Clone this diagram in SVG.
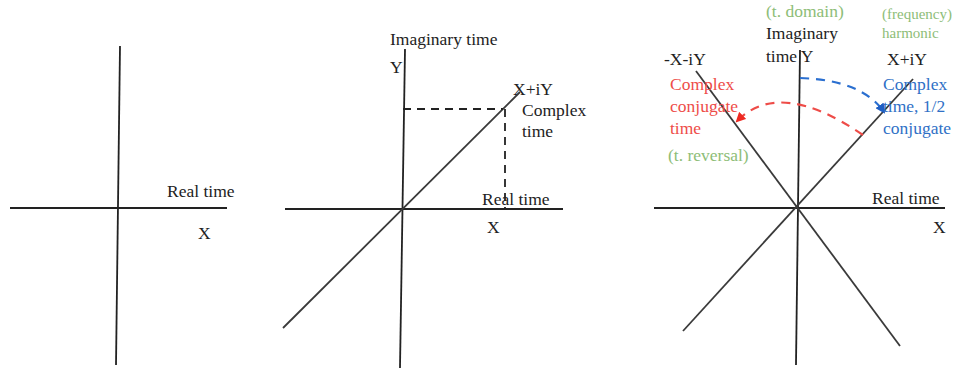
<svg xmlns="http://www.w3.org/2000/svg" width="956" height="370" viewBox="0 0 956 370">
<style>
text{font-family:"Liberation Serif","DejaVu Serif",serif;font-size:17.5px;fill:#222}
.ax{stroke:#222;stroke-width:1.8;fill:none}
.dg{stroke:#3a3a3a;stroke-width:1.8;fill:none}
.ds{stroke:#222;stroke-width:1.8;fill:none;stroke-dasharray:8,6}
.g{fill:#8dbd77}
.r{fill:#ee4c48}
.b{fill:#2f70c6}
</style>
<defs>
<marker id="ab" markerWidth="10" markerHeight="10" refX="8" refY="5" orient="auto" markerUnits="userSpaceOnUse"><path d="M0,0 L10,5 L0,10 Z" fill="#1f5fc4"/></marker>
<marker id="ar" markerWidth="10" markerHeight="10" refX="8" refY="5" orient="auto" markerUnits="userSpaceOnUse"><path d="M0,0 L10,5 L0,10 Z" fill="#ee2a22"/></marker>
</defs>
<rect width="956" height="370" fill="#fff"/>
<g id="panel1">
<line class="ax" x1="120" y1="46" x2="116" y2="365"/>
<line class="ax" x1="10" y1="208" x2="227" y2="208"/>
<text x="167" y="197">Real time</text>
<text x="198" y="239">X</text>
</g>
<g id="panel2">
<line class="ax" x1="405" y1="49" x2="400" y2="368"/>
<line class="ax" x1="285" y1="209" x2="563" y2="209"/>
<line class="dg" x1="283" y1="328" x2="520" y2="92"/>
<g id="dashes">
<line class="ds" x1="403" y1="109" x2="503" y2="109"/>
<line class="ds" x1="505" y1="109" x2="505" y2="209"/>
</g>
<text x="390" y="45">Imaginary time</text>
<text x="390" y="73">Y</text>
<text x="513" y="95">X+iY</text>
<text x="522" y="116">Complex</text>
<text x="522" y="137">time</text>
<text x="482" y="205">Real time</text>
<text x="487" y="233">X</text>
</g>
<g id="panel3">
<line class="ax" x1="800" y1="50" x2="796" y2="365"/>
<line class="ax" x1="654" y1="208" x2="945" y2="208"/>
<line class="dg" x1="913" y1="79" x2="683" y2="331"/>
<line class="dg" x1="696" y1="71" x2="900" y2="346"/>
<g id="connectors">
<path d="M800,78 Q862,80 884,112" fill="none" stroke="#2a6fd0" stroke-width="2.2" stroke-dasharray="9,7" marker-end="url(#ab)"/>
<path d="M863,135 Q780,78 737,121" fill="none" stroke="#ee4c48" stroke-width="2.2" stroke-dasharray="9,7" marker-end="url(#ar)"/>
</g>
<text class="g" x="766" y="17">(t. domain)</text>
<text x="766" y="39">Imaginary</text>
<text x="766" y="62">time Y</text>
<text class="g" x="882" y="19" style="font-size:15px">(frequency)</text>
<text class="g" x="882" y="38" style="font-size:15px">harmonic</text>
<text x="664" y="65">-X-iY</text>
<text x="887" y="65">X+iY</text>
<text class="r" x="670" y="90">Complex</text>
<text class="r" x="670" y="112">conjugate</text>
<text class="r" x="670" y="134">time</text>
<text class="g" x="668" y="161">(t. reversal)</text>
<text class="b" x="883" y="90">Complex</text>
<text class="b" x="883" y="112">time, 1/2</text>
<text class="b" x="883" y="134">conjugate</text>
<text x="872" y="204">Real time</text>
<text x="933" y="233">X</text>
</g>
</svg>
